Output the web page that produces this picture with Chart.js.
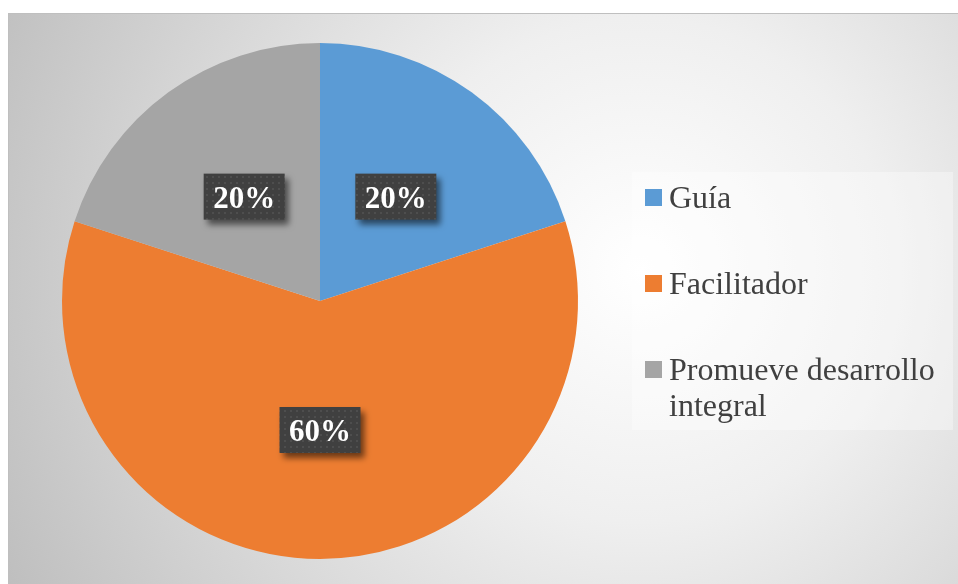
<!DOCTYPE html>
<html lang="es">
<head>
<meta charset="UTF-8">
<title>Pie chart</title>
<script src="https://cdn.jsdelivr.net/npm/chart.js"></script>
<style>
  body { margin: 0; background: #fff; }
  #wrap { width: 958px; height: 584px; position: relative; }
</style>
</head>
<body>
<div id="wrap"><canvas id="pieChart"></canvas></div>
<script>
// data
const labels = ['Guía', 'Facilitador', 'Promueve desarrollo integral'];
const values = [20, 60, 20];
const colors = ['#5b9bd5', '#ed7d31', '#a5a5a5'];

const serif = "'Liberation Serif', 'DejaVu Serif', serif";

// dotted fill for the value boxes
function dotPattern(ctx) {
    const c = document.createElement('canvas');
    c.width = 6; c.height = 6;
    const p = c.getContext('2d');
    p.fillStyle = '#404040';
    p.fillRect(0, 0, 6, 6);
    p.fillStyle = '#4e4e4e';
    p.fillRect(2, 2, 2, 2);
    return ctx.createPattern(c, 'repeat');
}

// gradient background + frame
const backgroundPlugin = {
    id: 'bg',
    beforeDraw(chart) {
        const ctx = chart.ctx;
        ctx.save();
        ctx.fillStyle = '#ffffff';
        ctx.fillRect(0, 0, chart.width, chart.height);
        const g = ctx.createRadialGradient(640, 270, 0, 640, 270, 720);
        g.addColorStop(0, '#ffffff');
        g.addColorStop(0.35, '#efefef');
        g.addColorStop(1, '#bdbdbd');
        ctx.fillStyle = g;
        ctx.fillRect(8, 13, chart.width, chart.height);
        ctx.strokeStyle = '#bfbfbf';
        ctx.lineWidth = 1;
        ctx.strokeRect(8.5, 13.5, chart.width + 10, chart.height + 10);
        ctx.restore();
    }
};

// percentage boxes on each slice
const valueLabels = {
    id: 'valueLabels',
    afterDatasetsDraw(chart) {
        const ctx = chart.ctx;
        const meta = chart.getDatasetMeta(0);
        const data = chart.data.datasets[0].data;
        const total = data.reduce((a, b) => a + b, 0);
        const pat = dotPattern(ctx);
        meta.data.forEach((arc, i) => {
            const pos = arc.tooltipPosition();
            const w = 81, h = 46;
            ctx.save();
            ctx.shadowColor = 'rgba(0,0,0,0.55)';
            ctx.shadowBlur = 6;
            ctx.shadowOffsetX = 4;
            ctx.shadowOffsetY = 5;
            ctx.fillStyle = pat;
            ctx.fillRect(pos.x - w / 2, pos.y - h / 2, w, h);
            ctx.restore();
            ctx.save();
            ctx.fillStyle = '#ffffff';
            ctx.font = 'bold 31px ' + serif;
            ctx.textAlign = 'center';
            ctx.textBaseline = 'alphabetic';
            ctx.fillText(Math.round(data[i] / total * 100) + '%', pos.x, pos.y + 11);
            ctx.restore();
        });
    }
};

// legend drawn in its own box on the right
const sideLegend = {
    id: 'sideLegend',
    afterDraw(chart) {
        const ctx = chart.ctx;
        const bg = chart.data.datasets[0].backgroundColor;
        ctx.save();
        ctx.fillStyle = 'rgba(255,255,255,0.35)';
        ctx.fillRect(632, 172, 321, 258);
        ctx.font = '32px ' + serif;
        ctx.textBaseline = 'alphabetic';
        const maxW = 278;
        let y = 208;
        chart.data.labels.forEach((lab, i) => {
            ctx.fillStyle = bg[i];
            ctx.fillRect(645, y - 19, 17, 17);
            // simple word wrap
            const words = lab.split(' ');
            const lines = [];
            let line = '';
            words.forEach(wd => {
                const test = line ? line + ' ' + wd : wd;
                if (ctx.measureText(test).width > maxW && line) {
                    lines.push(line);
                    line = wd;
                } else {
                    line = test;
                }
            });
            lines.push(line);
            ctx.fillStyle = '#404040';
            lines.forEach((l, k) => ctx.fillText(l, 669, y + k * 36));
            y += 86;
        });
        ctx.restore();
    }
};

new Chart(document.getElementById('pieChart'), {
    type: 'pie',
    data: {
        labels: labels,
        datasets: [{
            data: values,
            backgroundColor: colors,
            borderWidth: 0
        }]
    },
    options: {
        responsive: true,
        maintainAspectRatio: false,
        animation: false,
        layout: { padding: { left: 62, right: 380, top: 43, bottom: 25 } },
        plugins: {
            legend: { display: false },
            tooltip: { enabled: false }
        }
    },
    plugins: [backgroundPlugin, valueLabels, sideLegend]
});
</script>
</body>
</html>
